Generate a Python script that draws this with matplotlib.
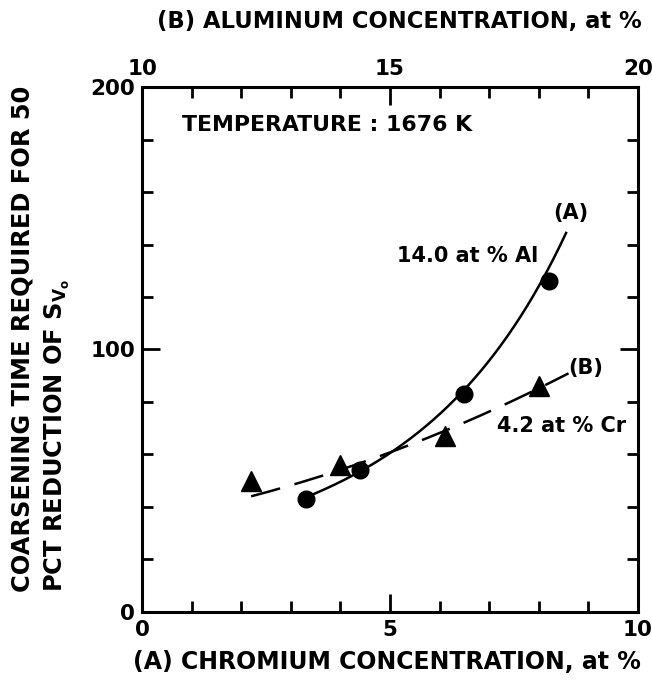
import numpy as np
import matplotlib
matplotlib.use("Agg")
import matplotlib.pyplot as plt
from matplotlib.ticker import FixedLocator, MultipleLocator

plt.rcParams["font.family"] = ["DejaVu Sans"]
plt.rcParams["font.weight"] = "bold"
plt.rcParams["mathtext.fontset"] = "custom"
plt.rcParams["mathtext.rm"] = "DejaVu Sans:bold"
plt.rcParams["mathtext.it"] = "DejaVu Sans:bold"

# (A) chromium series at 14.0 at% Al
cr_conc = [3.3, 4.4, 6.5, 8.2]
time_a = [43, 54, 83, 126]
# hand-drawn trend curve (A)
curve_a_x = [3.3, 4.4, 5.3, 6.5, 7.4, 8.2, 8.35, 8.55]
curve_a_y = [43, 54, 67, 83, 104, 126, 138, 150]

# (B) aluminum series at 4.2 at% Cr
al_conc = [12.2, 14.0, 16.1, 18.0]
time_b = [50, 56, 67, 86]
# dashed trend curve (B)
curve_b_x = [12.2, 13.8, 15.3, 17.1, 18.6]
curve_b_y = [44, 53, 63, 77, 91]

cr_ticks = [0, 5, 10]
al_ticks = [10, 15, 20]
time_ticks = [0, 100, 200]

fig = plt.figure(figsize=(6.52, 6.83), dpi=100)
ax = fig.add_axes([0.2178, 0.104, 0.7607, 0.7686])
ax.set_xlim(0, 10)
ax.set_ylim(0, 200)

for s in ax.spines.values():
    s.set_linewidth(2.2)

ax.xaxis.set_major_locator(FixedLocator(cr_ticks))
ax.xaxis.set_minor_locator(MultipleLocator(1))
ax.yaxis.set_major_locator(FixedLocator(time_ticks))
ax.yaxis.set_minor_locator(MultipleLocator(20))
ax.tick_params(which="both", direction="in", top=False, right=True,
               labelsize=15.5, width=2)
ax.tick_params(which="major", length=13)
ax.tick_params(which="minor", length=8)
ax.tick_params(axis="x", pad=6)
ax.tick_params(axis="y", pad=5)

ax2 = ax.twiny()
ax2.set_xlim(10, 20)
ax2.xaxis.set_major_locator(FixedLocator(al_ticks))
ax2.xaxis.set_minor_locator(MultipleLocator(1))
ax2.tick_params(which="both", direction="in", bottom=False, top=True,
                labelsize=15.5, width=2, pad=6)
ax2.tick_params(which="major", length=13)
ax2.tick_params(which="minor", length=8)
for s in ax2.spines.values():
    s.set_visible(False)

# curve (A): smooth fit through the drawn vertices (quadratic in log time)
ca = np.polyfit(curve_a_x, np.log(curve_a_y), 2)
xa = np.linspace(curve_a_x[0], curve_a_x[-1], 200)
ax.plot(xa, np.exp(np.polyval(ca, xa)), color="black", lw=1.8)
ax.plot(cr_conc, time_a, "o", color="black", ms=12)

# curve (B): dashed
cb = np.polyfit(curve_b_x, curve_b_y, 2)
xb = np.linspace(curve_b_x[0], curve_b_x[-1], 200)
ax2.plot(xb, np.polyval(cb, xb), color="black", lw=1.8, dashes=(12, 6))
ax2.plot(al_conc, time_b, "^", color="black", ms=15)

ax.text(0.8, 185.5, "TEMPERATURE : 1676 K", fontsize=15.8, ha="left", va="center")
ax.text(7.98, 135.5, "14.0 at % Al", fontsize=15, ha="right", va="center")
ax.text(8.3, 152, "(A)", fontsize=15, ha="left", va="center")
ax.text(8.6, 93, "(B)", fontsize=15, ha="left", va="center")
ax.text(7.15, 71, "4.2 at % Cr", fontsize=15, ha="left", va="center")

fig.text(0.594, 0.031, "(A) CHROMIUM CONCENTRATION, at %", fontsize=17,
         ha="center", va="center")
fig.text(0.612, 0.968, "(B) ALUMINUM CONCENTRATION, at %", fontsize=16.3,
         ha="center", va="center")
fig.text(0.034, 0.133, "COARSENING TIME REQUIRED FOR 50", fontsize=17.4,
         rotation=90, ha="center", va="bottom")
fig.text(0.088, 0.133, "PCT REDUCTION OF S$_{\\mathrm{V_o}}$", fontsize=17.4,
         rotation=90, ha="center", va="bottom")

fig.savefig("out.png", dpi=100)
